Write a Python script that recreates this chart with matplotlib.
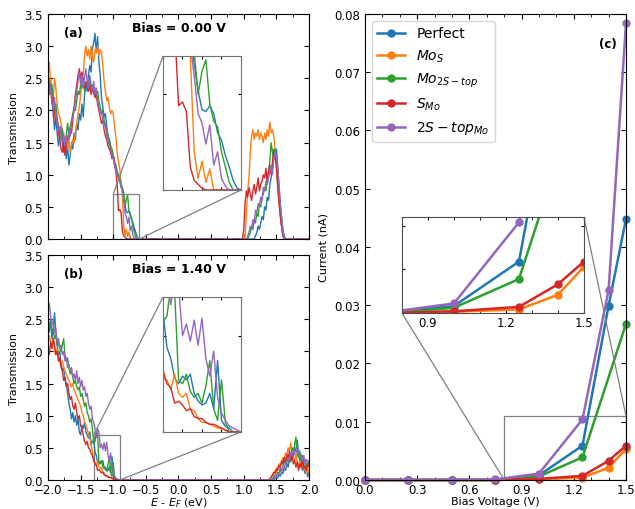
import matplotlib.pyplot as plt
import numpy as np
from matplotlib.ticker import MultipleLocator
from mpl_toolkits.axes_grid1.inset_locator import mark_inset

plt.rcParams["font.family"] = "DejaVu Sans"
plt.rcParams["mathtext.fontset"] = "dejavusans"

# Transmission spectra, sampled every 0.02 eV.
# Valence-band part starts at -2.00 eV, conduction-band part at the given start.
STEP = 0.02

# ---- Bias = 0.00 V ----
A_VB_START = -2.00
A_CB_START = 0.96

a_vb_perfect = [2.45, 2.30, 2.50, 2.20, 1.95, 1.70, 1.90, 1.65, 1.45, 1.60,
                1.75, 1.50, 1.35, 1.55, 1.25, 1.45, 1.15, 1.30, 1.50, 1.40,
                1.65, 1.55, 1.80, 1.70, 1.95, 1.85, 2.10, 1.90, 2.25, 2.40,
                2.30, 2.55, 2.70, 2.60, 2.95, 3.05, 3.20, 2.90, 3.15, 2.75,
                2.55, 2.20, 2.05, 1.90, 1.95, 1.75, 1.60, 1.55, 1.40, 1.35,
                1.30, 1.20, 1.10, 1.05, 0.95, 0.90, 0.80, 0.78, 0.66, 0.52,
                0.42, 0.41, 0.44, 0.40, 0.30, 0.26, 0.18, 0.12, 0.05, 0.01,
                0.00]
a_vb_mos = [2.55, 2.75, 2.45, 2.30, 2.20, 2.50, 2.35, 2.10, 1.95, 1.90,
            1.80, 1.70, 1.55, 1.60, 1.45, 1.40, 1.55, 1.35, 1.45, 1.55,
            1.50, 1.65, 1.80, 1.95, 2.05, 2.25, 2.45, 2.55, 2.85, 3.00,
            2.85, 2.95, 2.80, 3.00, 2.85, 2.75, 2.95, 2.90, 3.00, 2.85,
            2.95, 2.90, 2.70, 2.45, 2.30, 2.15, 2.20, 2.05, 1.95, 2.00,
            1.95, 1.75, 1.60, 1.35, 1.20, 1.10, 0.87, 0.70, 0.20, 0.06,
            0.15, 0.04, 0.11, 0.00, 0.00, 0.00, 0.00, 0.00, 0.00, 0.00,
            0.00]
a_vb_mo2s = [2.55, 2.45, 2.35, 2.40, 2.20, 2.00, 2.10, 1.85, 1.75, 1.65,
             1.55, 1.70, 1.45, 1.50, 1.60, 1.80, 1.65, 1.75, 1.85, 1.95,
             2.05, 2.00, 2.15, 2.30, 2.25, 2.40, 2.35, 2.50, 2.30, 2.45,
             2.40, 2.35, 2.50, 2.30, 2.40, 2.25, 2.35, 2.20, 2.30, 2.15,
             2.05, 1.95, 2.00, 1.85, 1.75, 1.70, 1.60, 1.55, 1.45, 1.40,
             1.30, 1.20, 1.15, 1.05, 1.00, 0.95, 0.85, 0.80, 0.72, 0.50,
             0.62, 0.68, 0.45, 0.36, 0.33, 0.20, 0.12, 0.04, 0.00, 0.00,
             0.00]
a_vb_smo = [2.40, 2.25, 2.35, 2.10, 2.20, 1.95, 1.80, 1.90, 1.65, 1.55,
            1.40, 1.35, 1.50, 1.30, 1.45, 1.60, 1.55, 1.70, 1.65, 1.85,
            2.05, 2.25, 2.40, 2.55, 2.65, 2.50, 2.60, 2.45, 2.35, 2.40,
            2.45, 2.30, 2.40, 2.25, 2.35, 2.30, 2.20, 2.25, 2.10, 2.00,
            1.90, 1.80, 1.85, 1.70, 1.60, 1.55, 1.45, 1.40, 1.35, 1.25,
            1.30, 1.15, 1.05, 0.85, 0.44, 0.46, 0.41, 0.12, 0.05, 0.03,
            0.01, 0.00, 0.00, 0.00, 0.00, 0.00, 0.00, 0.00, 0.00, 0.00,
            0.00]
a_vb_2stop = [2.35, 2.25, 2.40, 2.15, 2.05, 2.20, 1.95, 1.80, 1.70, 1.75,
              1.60, 1.50, 1.65, 1.45, 1.55, 1.50, 1.70, 1.60, 1.80, 1.90,
              2.00, 2.15, 2.30, 2.45, 2.60, 2.40, 2.55, 2.35, 2.50, 2.65,
              2.45, 2.35, 2.55, 2.40, 2.30, 2.45, 2.25, 2.35, 2.15, 2.05,
              1.95, 2.00, 1.85, 1.75, 1.80, 1.60, 1.55, 1.45, 1.40, 1.30,
              1.25, 1.15, 1.10, 1.00, 0.95, 0.90, 0.85, 0.75, 0.60, 0.40,
              0.35, 0.24, 0.34, 0.13, 0.20, 0.06, 0.02, 0.00, 0.00, 0.00,
              0.00]

a_cb_perfect = [0, 0, 0, 0, 0, 0, 0, 0, 0, 0,
                0, 0.05, 0.10, 0.20, 0.15, 0.25, 0.35, 0.30, 0.50, 0.45,
                0.65, 0.60, 0.85, 0.95, 1.10, 1.40, 1.30, 1.40, 1.15, 0.80,
                0.55, 0.35, 0.15, 0.05, 0.00, 0.00]
a_cb_mos = [0, 0, 0, 0.05, 0.40, 0.75, 0.95, 1.35, 1.60, 1.70,
            1.55, 1.65, 1.60, 1.70, 1.55, 1.65, 1.60, 1.50, 1.65, 1.55,
            1.70, 1.60, 1.82, 1.65, 1.70, 1.60, 1.40, 1.10, 0.80, 0.55,
            0.40, 0.20, 0.08, 0.00, 0.00, 0.00]
a_cb_mo2s = [0, 0, 0, 0, 0, 0, 0.05, 0.10, 0.20, 0.15,
             0.30, 0.25, 0.40, 0.35, 0.55, 0.50, 0.65, 0.70, 0.80, 0.75,
             0.95, 1.05, 1.20, 1.50, 1.35, 1.25, 1.40, 1.20, 0.90, 0.65,
             0.40, 0.20, 0.05, 0.00, 0.00, 0.00]
a_cb_smo = [0, 0, 0.15, 0.55, 0.75, 0.65, 0.80, 0.70, 0.60, 0.75,
            0.85, 0.70, 0.80, 0.95, 0.75, 0.85, 0.90, 1.00, 0.95, 1.10,
            0.85, 1.05, 1.15, 1.00, 1.20, 1.35, 1.25, 1.15, 0.85, 0.60,
            0.35, 0.20, 0.05, 0.00, 0.00, 0.00]
a_cb_2stop = [0, 0, 0, 0, 0, 0.05, 0.10, 0.20, 0.15, 0.30,
              0.25, 0.45, 0.40, 0.55, 0.50, 0.65, 0.60, 0.80, 0.75, 0.90,
              0.85, 0.95, 1.05, 1.15, 1.00, 1.25, 1.35, 1.30, 1.10, 0.85,
              0.55, 0.30, 0.10, 0.00, 0.00, 0.00]

# ---- Bias = 1.40 V ----
B_VB_START = -2.00
B_CB_START = 1.38

b_vb_perfect = [2.45, 2.30, 2.50, 2.20, 2.35, 2.60, 2.30, 2.10, 1.95, 2.00,
                1.80, 1.70, 1.75, 1.55, 1.50, 1.35, 1.20, 1.10, 0.95, 1.05,
                0.90, 1.00, 0.85, 0.95, 0.75, 0.70, 0.85, 0.80, 0.90, 0.75,
                0.70, 0.65, 0.75, 0.55, 0.60, 0.62, 0.44, 0.38, 0.28, 0.25,
                0.29, 0.27, 0.30, 0.20, 0.16, 0.14, 0.15, 0.20, 0.12, 0.37,
                0.06, 0.03, 0.02, 0.00, 0.00, 0.00]
b_vb_mos = [2.10, 2.25, 2.15, 2.05, 2.20, 2.00, 1.95, 2.05, 1.90, 1.85,
            1.80, 1.85, 1.75, 1.70, 1.65, 1.60, 1.55, 1.50, 1.45, 1.50,
            1.40, 1.35, 1.30, 1.25, 1.20, 1.15, 1.05, 1.00, 0.90, 0.85,
            0.80, 0.70, 0.65, 0.55, 0.45, 0.28, 0.27, 0.22, 0.30, 0.20,
            0.18, 0.20, 0.12, 0.11, 0.07, 0.05, 0.05, 0.04, 0.03, 0.02,
            0.02, 0.01, 0.00, 0.00, 0.00, 0.00]
b_vb_mo2s = [2.55, 2.40, 2.45, 2.30, 2.35, 2.20, 2.25, 2.10, 2.15, 2.05,
             2.00, 2.10, 2.20, 1.95, 1.85, 1.90, 1.75, 1.65, 1.70, 1.60,
             1.50, 1.55, 1.45, 1.40, 1.45, 1.30, 1.35, 1.25, 1.15, 1.20,
             1.05, 1.00, 0.90, 0.95, 0.80, 0.57, 0.60, 0.75, 0.72, 0.27,
             0.25, 0.30, 0.21, 0.18, 0.20, 0.15, 0.24, 0.37, 0.12, 0.06,
             0.27, 0.05, 0.00, 0.00, 0.00, 0.00]
b_vb_smo = [2.00, 1.95, 2.15, 2.05, 2.20, 2.10, 1.95, 2.00, 1.85, 1.90,
            1.75, 1.70, 1.55, 1.60, 1.45, 1.50, 1.35, 1.25, 1.30, 1.15,
            1.10, 1.20, 1.05, 0.95, 1.00, 0.85, 0.80, 0.70, 0.60, 0.55,
            0.60, 0.50, 0.48, 0.42, 0.38, 0.32, 0.25, 0.23, 0.15, 0.16,
            0.14, 0.11, 0.12, 0.08, 0.07, 0.07, 0.05, 0.04, 0.04, 0.03,
            0.02, 0.01, 0.00, 0.00, 0.00, 0.00]
b_vb_2stop = [2.60, 2.75, 2.55, 2.40, 2.50, 2.30, 2.35, 2.15, 2.20, 2.05,
              2.10, 1.95, 2.00, 1.85, 1.90, 1.75, 1.80, 1.70, 1.75, 1.60,
              1.65, 1.55, 1.70, 1.50, 1.60, 1.45, 1.55, 1.40, 1.45, 1.30,
              1.35, 1.20, 1.10, 1.15, 0.95, 0.90, 0.80, 0.66, 0.80, 0.75,
              0.50, 0.56, 0.47, 0.58, 0.45, 0.59, 0.38, 0.29, 0.42, 0.18,
              0.10, 0.06, 0.03, 0.02, 0.01, 0.00]

b_cb_perfect = [0, 0, 0, 0, 0, 0.02, 0.04, 0.03, 0.08, 0.06,
                0.12, 0.10, 0.18, 0.15, 0.25, 0.20, 0.32, 0.28, 0.40, 0.35,
                0.50, 0.45, 0.62, 0.40, 0.30, 0.35, 0.15, 0.25, 0.10, 0.20,
                0.05, 0.12]
b_cb_mos = [0, 0, 0.03, 0.06, 0.10, 0.15, 0.12, 0.20, 0.25, 0.18,
            0.28, 0.35, 0.30, 0.42, 0.38, 0.50, 0.45, 0.58, 0.40, 0.35,
            0.30, 0.40, 0.28, 0.22, 0.30, 0.18, 0.25, 0.15, 0.20, 0.12,
            0.18, 0.10]
b_cb_mo2s = [0, 0, 0, 0.02, 0.05, 0.08, 0.06, 0.12, 0.10, 0.18,
             0.15, 0.22, 0.30, 0.25, 0.35, 0.28, 0.40, 0.35, 0.50, 0.45,
             0.55, 0.67, 0.40, 0.35, 0.45, 0.30, 0.38, 0.25, 0.32, 0.20,
             0.28, 0.22]
b_cb_smo = [0, 0.02, 0.05, 0.08, 0.12, 0.10, 0.18, 0.15, 0.22, 0.20,
            0.30, 0.25, 0.35, 0.28, 0.40, 0.32, 0.45, 0.30, 0.38, 0.25,
            0.30, 0.20, 0.28, 0.15, 0.25, 0.20, 0.30, 0.18, 0.22, 0.15,
            0.25, 0.20]
b_cb_2stop = [0, 0, 0, 0, 0.03, 0.06, 0.05, 0.10, 0.08, 0.15,
              0.12, 0.20, 0.18, 0.28, 0.25, 0.35, 0.30, 0.42, 0.38, 0.45,
              0.40, 0.50, 0.42, 0.48, 0.35, 0.40, 0.30, 0.38, 0.25, 0.32,
              0.28, 0.30]

# ---- I-V curves ----
bias = [0.0, 0.25, 0.5, 0.75, 1.0, 1.25, 1.4, 1.5]
bias_mo2s = [0.0, 0.25, 0.5, 0.75, 1.0, 1.25, 1.5]
current_perfect = [0.0, 0.0, 0.0, 0.00002, 0.0008, 0.0059, 0.0299, 0.0448]
current_mos = [0.0, 0.0, 0.0, 0.0, 0.00015, 0.0004, 0.0021, 0.0053]
current_mo2s = [0.0, 0.0, 0.0, 0.0, 0.0006, 0.0039, 0.0268]
current_smo = [0.0, 0.0, 0.0, 0.0, 0.0002, 0.0007, 0.0033, 0.0059]
current_2stop = [0.0, 0.0, 0.0, 0.0001, 0.0011, 0.0104, 0.0326, 0.0784]

labels = ["Perfect", r"$Mo_S$", r"$Mo_{2S-top}$", r"$S_{Mo}$", r"$2S-top_{Mo}$"]
colors = ["#1f77b4", "#ff7f0e", "#2ca02c", "#d62728", "#9467bd"]

TICK_SIZE = 8.5
LABEL_SIZE = 8


def spectrum(vb, cb, vb_start, cb_start, e_max=2.0):
    """Join valence and conduction segments into one energy/transmission pair."""
    e_vb = vb_start + STEP * np.arange(len(vb))
    e_cb = cb_start + STEP * np.arange(len(cb))
    energy = np.concatenate([e_vb, e_cb])
    trans = np.concatenate([vb, cb])
    if energy[-1] < e_max:
        energy = np.append(energy, e_max)
        trans = np.append(trans, 0.0)
    return energy, trans


def style_axes(ax, labelsize=TICK_SIZE):
    ax.tick_params(which="both", direction="in", top=True, right=True,
                   labelsize=labelsize)
    ax.tick_params(which="major", length=3.5)
    ax.tick_params(which="minor", length=2)
    ax.tick_params(axis="x", pad=2)


def add_zoom(fig, ax, rect, curves, xlim, ylim, loc1, loc2):
    axins = fig.add_axes(rect)
    for (e, t), c in zip(curves, colors):
        axins.plot(e, t, color=c, lw=1.0)
    axins.set_xlim(*xlim)
    axins.set_ylim(*ylim)
    axins.xaxis.set_major_locator(MultipleLocator(0.1))
    axins.yaxis.set_major_locator(MultipleLocator(0.5))
    axins.tick_params(direction="in", top=True, right=True, length=2,
                      labelbottom=False, labelleft=False)
    for sp in axins.spines.values():
        sp.set_edgecolor("0.45")
    mark_inset(ax, axins, loc1=loc1, loc2=loc2, fc="none", ec="0.5", lw=0.9)
    return axins


def plot_transmission(fig, ax, curves, title, tag, zoom_rect, zoom_xlim):
    for (e, t), c in zip(curves, colors):
        ax.plot(e, t, color=c, lw=1.0)
    ax.set_xlim(-2.0, 2.0)
    ax.set_ylim(0, 3.5)
    ax.xaxis.set_major_locator(MultipleLocator(0.5))
    ax.xaxis.set_minor_locator(MultipleLocator(0.25))
    ax.yaxis.set_major_locator(MultipleLocator(0.5))
    ax.set_ylabel("Transmission", fontsize=LABEL_SIZE)
    style_axes(ax)
    ax.text(0.5, 0.94, title, transform=ax.transAxes, ha="center", va="center",
            fontsize=9, fontweight="bold")
    ax.text(0.06, 0.92, tag, transform=ax.transAxes, ha="left", va="center",
            fontsize=8.5, fontweight="bold")
    add_zoom(fig, ax, zoom_rect, curves, zoom_xlim, (0, 0.7), loc1=2, loc2=4)


fig = plt.figure(figsize=(6.35, 5.10), dpi=100)

ax_a = fig.add_axes([0.0756, 0.5294, 0.411, 0.441])
ax_b = fig.add_axes([0.0756, 0.0569, 0.411, 0.441])
ax_c = fig.add_axes([0.5748, 0.0569, 0.411, 0.9137])

curves_a = [
    spectrum(a_vb_perfect, a_cb_perfect, A_VB_START, A_CB_START),
    spectrum(a_vb_mos, a_cb_mos, A_VB_START, A_CB_START),
    spectrum(a_vb_mo2s, a_cb_mo2s, A_VB_START, A_CB_START),
    spectrum(a_vb_smo, a_cb_smo, A_VB_START, A_CB_START),
    spectrum(a_vb_2stop, a_cb_2stop, A_VB_START, A_CB_START),
]
curves_b = [
    spectrum(b_vb_perfect, b_cb_perfect, B_VB_START, B_CB_START),
    spectrum(b_vb_mos, b_cb_mos, B_VB_START, B_CB_START),
    spectrum(b_vb_mo2s, b_cb_mo2s, B_VB_START, B_CB_START),
    spectrum(b_vb_smo, b_cb_smo, B_VB_START, B_CB_START),
    spectrum(b_vb_2stop, b_cb_2stop, B_VB_START, B_CB_START),
]

plot_transmission(fig, ax_a, curves_a, "Bias = 0.00 V", "(a)",
                  [0.2567, 0.6255, 0.1228, 0.2627], (-1.0, -0.6))
ax_a.tick_params(labelbottom=False)

plot_transmission(fig, ax_b, curves_b, "Bias = 1.40 V", "(b)",
                  [0.2567, 0.151, 0.1228, 0.2647], (-1.3, -0.9))
ax_b.set_xlabel(r"$E$ - $E_F$ (eV)", fontsize=LABEL_SIZE, labelpad=0)

# I-V characteristics
iv = [
    (bias, current_perfect),
    (bias, current_mos),
    (bias_mo2s, current_mo2s),
    (bias, current_smo),
    (bias, current_2stop),
]
for (v, i), c, lab in zip(iv, colors, labels):
    ax_c.plot(v, i, "-o", color=c, lw=1.8, ms=5, label=lab, clip_on=False)
ax_c.set_xlim(0, 1.5)
ax_c.set_ylim(0, 0.08)
ax_c.xaxis.set_major_locator(MultipleLocator(0.3))
ax_c.xaxis.set_minor_locator(MultipleLocator(0.1))
ax_c.yaxis.set_major_locator(MultipleLocator(0.01))
ax_c.set_xlabel("Bias Voltage (V)", fontsize=LABEL_SIZE, labelpad=0)
ax_c.set_ylabel("Current (nA)", fontsize=LABEL_SIZE)
style_axes(ax_c)
ax_c.legend(loc="upper left", fontsize=10)
ax_c.text(0.93, 0.936, "(c)", transform=ax_c.transAxes, ha="center",
          va="center", fontsize=8.5, fontweight="bold")

ins_c = fig.add_axes([0.633, 0.3843, 0.2866, 0.188])
for (v, i), c in zip(iv, colors):
    ins_c.plot(v, i, "-o", color=c, lw=1.8, ms=5)
ins_c.set_xlim(0.8, 1.5)
ins_c.set_ylim(0, 0.011)
ins_c.xaxis.set_major_locator(MultipleLocator(0.3))
ins_c.xaxis.set_minor_locator(MultipleLocator(0.1))
ins_c.yaxis.set_major_locator(MultipleLocator(0.005))
ins_c.tick_params(which="both", direction="in", top=True, right=True,
                  labelleft=False, labelsize=TICK_SIZE, length=2.5, pad=2)
for sp in ins_c.spines.values():
    sp.set_edgecolor("0.3")
mark_inset(ax_c, ins_c, loc1=3, loc2=1, fc="none", ec="0.5", lw=0.9)

fig.savefig("out.png", dpi=100)
